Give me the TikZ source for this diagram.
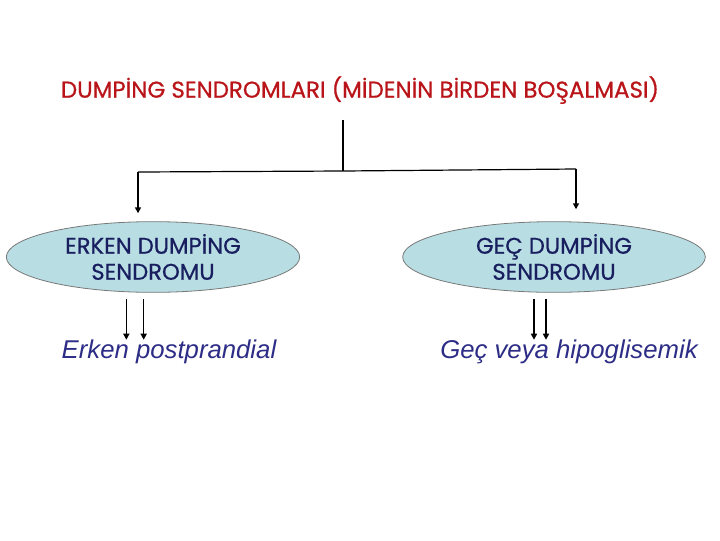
\documentclass[tikz,border=0pt]{standalone}
\usepackage{fontspec}
\setmainfont{Liberation Sans}
\newfontfamily\comicfont{Poppins}[FakeBold=0.7]
\usepackage{xcolor}
\usepackage{tikz}
\usetikzlibrary{arrows.meta,positioning,calc,shapes.geometric}
\definecolor{titlered}{RGB}{185,20,25}
\definecolor{boxnavy}{RGB}{25,30,95}
\definecolor{itnavy}{RGB}{45,45,135}
\definecolor{ovalfill}{RGB}{184,222,228}
\definecolor{ovalline}{RGB}{120,120,120}

\begin{document}
\begin{tikzpicture}[x=0.75pt,y=-0.75pt,
    oval/.style={ellipse,draw=ovalline,fill=ovalfill,line width=0.6pt,
        inner sep=0pt,minimum height=53pt,align=center,
        font=\comicfont\fontsize{17}{19.5}\selectfont,text=boxnavy},
    kind/.style={inner sep=0pt,font=\itshape\fontsize{19.3}{22}\selectfont,text=itnavy},
    arr/.style={line width=1.1pt,-{Triangle[width=4.5pt,length=4.5pt]}}]
			\useasboundingbox (0,0) rectangle (720,540);
			
			\node[text=titlered,font=\comicfont\fontsize{17.2}{20}\selectfont] (title) at (360,90) {DUMPİNG SENDROMLARI (MİDENİN BİRDEN BOŞALMASI)};
			
			\node[oval,minimum width=220pt] (early) at (153,257) {ERKEN DUMPİNG\\SENDROMU};
			\node[oval,minimum width=227pt] (late) at (554,257) {GEÇ DUMPİNG\\SENDROMU};
			
			\node[kind] (earlytype) at (169,352) {Erken postprandial};
			\node[kind] (latetype) at (569,352) {Geç veya hipoglisemik};
			
			\coordinate (top) at (343,120);
			\coordinate (mid) at (343,171);
			\coordinate (jl) at (138,172);
			\coordinate (jr) at (576,169);
			
			\draw[line width=0.9pt] (top) -- (mid);
			\draw[line width=0.9pt] (jl) -- (mid) -- (jr);
			\draw[arr] (jl) -- ([yshift=6pt]jl |- early.north);
			\draw[arr] (jr) -- ([yshift=9pt]jr |- late.north);
			
			% two arrows under each oval
			\draw[arr] ([xshift=-20pt,yshift=-5pt]early.south) -- ([xshift=-20pt]early.south |- earlytype.north);
			\draw[arr] ([xshift=-7pt,yshift=-5pt]early.south) -- ([xshift=-7pt]early.south |- earlytype.north);
			\draw[arr] ([xshift=-15pt,yshift=-5pt]late.south) -- ([xshift=-15pt]late.south |- latetype.north);
			\draw[arr] ([xshift=-6pt,yshift=-5pt]late.south) -- ([xshift=-6pt]late.south |- latetype.north);
		\end{tikzpicture}
\end{document}
